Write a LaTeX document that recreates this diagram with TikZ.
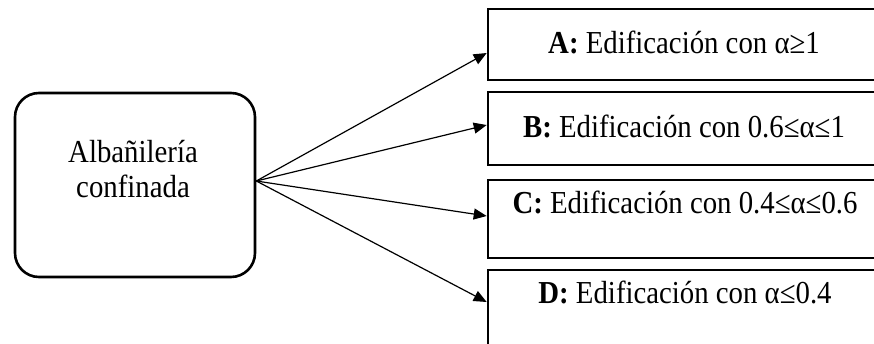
\documentclass[tikz,border=0pt]{standalone}
\usepackage{fontspec}
\setmainfont{Liberation Serif}
\usetikzlibrary{arrows.meta}
\newcommand{\nrw}[1]{\scalebox{0.9}[1]{#1}}
\begin{document}
\begin{tikzpicture}[x=1pt,y=-1pt,
  leftbox/.style={draw, line width=2.6pt, rounded corners=24pt, minimum width=240pt, minimum height=184pt, inner sep=0pt},
  catbox/.style={draw, line width=2.6pt, minimum width=394pt, inner sep=0pt},
  lbl/.style={font=\fontsize{32}{35.5}\selectfont, inner sep=0pt},
  arr/.style={line width=1.2pt, -{Triangle[length=13pt,width=11pt]}}]
\useasboundingbox (0,0) rectangle (874,343);
\clip (0,0) rectangle (874,343);
\node[leftbox] (left) at (135,185) {};
\node[lbl, align=center] (lefttext) at (133,169) {\nrw{Albañilería}\\\nrw{confinada}};
\node[catbox, minimum height=71pt] (boxA) at (685,44.5) {};
\node[catbox, minimum height=73pt] (boxB) at (685,128.5) {};
\node[catbox, minimum height=78pt] (boxC) at (685,219) {};
\node[catbox, minimum height=80pt] (boxD) at (685,310) {};
\node[lbl, anchor=base] (tA) at (684,53) {\nrw{\textbf{A:} Edificación con α≥1}};
\node[lbl, anchor=base] (tB) at (684,137) {\nrw{\textbf{B:} Edificación con 0.6≤α≤1}};
\node[lbl, anchor=base] (tC) at (685,213) {\nrw{\textbf{C:} Edificación con 0.4≤α≤0.6}};
\node[lbl, anchor=base] (tD) at (685,303) {\nrw{\textbf{D:} Edificación con α≤0.4}};
\coordinate (src) at ([yshift=4pt]left.east);
\draw[arr] (src) -- ([yshift=-8.5pt]boxA.west);
\draw[arr] (src) -- ([yshift=3.5pt]boxB.west);
\draw[arr] (src) -- ([yshift=3pt]boxC.west);
\draw[arr] (src) -- ([yshift=8pt]boxD.west);
\end{tikzpicture}
\end{document}
